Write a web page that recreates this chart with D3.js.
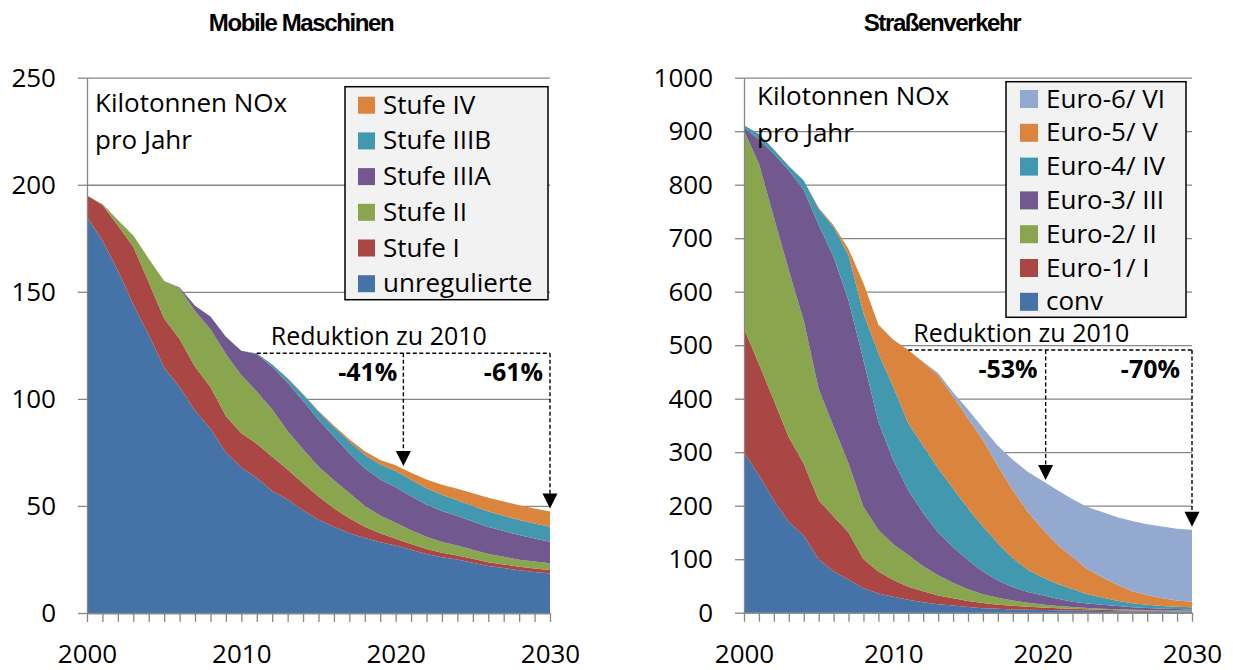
<!DOCTYPE html>
<html lang="de">
<head>
	<meta charset="UTF-8">
	<title>NOx-Emissionen: Mobile Maschinen / Straßenverkehr</title>
	<script src="https://cdnjs.cloudflare.com/ajax/libs/d3/7.8.5/d3.min.js"></script>
	<style>
		body { margin: 0; background: #fff; }
		svg { display: block; font-family: "Open Sans", sans-serif; }
		.axis text { font-size: 26px; fill: #000; font-family: "Open Sans", sans-serif; }
		.axis path, .axis line, .grid line { stroke: #868686; stroke-width: 1.3; }
		.grid path { display: none; }
		.title { font-family: "Liberation Sans", Arial, sans-serif; font-weight: bold; font-size: 24px; letter-spacing: -1.4px; }
		.unit { font-size: 26px; }
		.legend text { font-size: 26px; }
		.redu { font-size: 25px; }
		.pct { font-size: 25px; font-weight: bold; }
	</style>
</head>
<body>

<script>
	//----Kategorien----
	var years = [2000, 2001, 2002, 2003, 2004, 2005, 2006, 2007, 2008, 2009, 2010,
		2011, 2012, 2013, 2014, 2015, 2016, 2017, 2018, 2019, 2020,
		2021, 2022, 2023, 2024, 2025, 2026, 2027, 2028, 2029, 2030];
	var xLabels = [2000, 2010, 2020, 2030];
	var colors = ['#4572A7', '#AA4643', '#89A54E', '#71588F', '#4198AF', '#DB843D', '#93A9CF'];

	//----Mobile Maschinen (kt NOx)----
	var mmTicks = [0, 50, 100, 150, 200, 250];
	var mmNames = ['unregulierte', 'Stufe I', 'Stufe II', 'Stufe IIIA', 'Stufe IIIB', 'Stufe IV'];
	var mmUnreguliert = [185, 174, 160, 144, 130, 114.5, 105.5, 94.5, 86, 75, 68, 63, 57, 53, 48, 43.5, 40.3, 37.2, 35, 33, 31.5, 29.5, 27.5, 26, 25, 23.5, 22, 21, 20, 19.2, 18.5];
	var mmStufe1 = [10, 16.5, 21, 27, 24.5, 23, 22.5, 20.5, 19.5, 17, 16, 16, 16, 14, 12.6, 10.9, 8.6, 7, 5.3, 4.2, 3.2, 2.7, 2.4, 2.1, 1.9, 1.8, 1.7, 1.7, 1.6, 1.6, 1.6];
	var mmStufe2 = [0, 0.5, 2.5, 5.3, 11, 17.5, 23.5, 26, 27, 29, 27, 24.5, 22, 18, 15.9, 14, 13.1, 11.8, 9.7, 8.3, 7.5, 6.5, 5.7, 5.1, 4.6, 4.2, 3.9, 3.6, 3.3, 3.2, 3.1];
	var mmStufe3A = [0, 0, 0, 0, 0, 0, 0.5, 2.5, 6, 8, 11.5, 17.5, 20, 22.5, 22.5, 21.8, 20.4, 18.6, 17.6, 16.8, 16.5, 15.8, 15, 14.4, 13.8, 13.2, 12.6, 12, 11.5, 10.8, 10.1];
	var mmStufe3B = [0, 0, 0, 0, 0, 0, 0, 0, 0, 0, 0, 0.3, 1, 2, 3, 3.8, 4.5, 5.5, 6.3, 7, 7.6, 7.7, 7.7, 7.6, 7.4, 7.3, 7.2, 7.1, 7, 7, 7];
	var mmStufe4 = [0, 0, 0, 0, 0, 0, 0, 0, 0, 0, 0, 0, 0, 0.2, 0.3, 0.4, 0.7, 1.1, 1.6, 2.1, 2.7, 3.3, 4, 4.7, 5.3, 5.9, 6.4, 6.7, 6.9, 7, 7.1];
	var mmArrowYears = [2020.5, 2030];
	var mmReduction = ['-41%', '-61%'];

	//----Straßenverkehr (kt NOx)----
	var svTicks = [0, 100, 200, 300, 400, 500, 600, 700, 800, 900, 1000];
	var svNames = ['conv', 'Euro-1/ I', 'Euro-2/ II', 'Euro-3/ III', 'Euro-4/ IV', 'Euro-5/ V', 'Euro-6/ VI'];
	var svConv = [300, 257, 210, 170, 144, 100, 77, 62, 45.5, 36, 30, 24, 19.5, 16, 13.5, 10.5, 8.5, 7.3, 6.2, 5.5, 5, 4.5, 4, 3.6, 3.2, 2.9, 2.6, 2.4, 2.2, 2.1, 2];
	var svEuro1 = [231, 208, 187, 158, 135, 110, 103, 88, 54.5, 41, 31, 24.6, 20.5, 16, 13.5, 11.5, 9.5, 7.7, 6.8, 5.5, 4.8, 4, 3.3, 2.7, 2.3, 1.8, 1.4, 1.1, 0.8, 0.6, 0.5];
	var svEuro2 = [370, 374, 342, 312, 267, 208, 168, 129, 98, 77.5, 67, 59.4, 47, 38, 29, 22, 16.5, 13, 10, 7.5, 5.5, 4.2, 3.3, 2.6, 2, 1.7, 1.5, 1.4, 1.3, 1.2, 1.2];
	var svEuro3 = [5, 46, 119, 187, 244, 307, 317, 305, 274, 202.5, 157, 121, 99, 80, 67, 54, 42.5, 32, 25, 20, 17.2, 13.5, 10.1, 8.5, 7.3, 6, 4.8, 4.1, 3.3, 2.9, 2.5];
	var svEuro4 = [5, 10, 8, 8, 18, 30, 56, 84, 88, 128, 137, 125, 126, 120, 109, 97, 84, 70, 54, 42, 33.5, 27.5, 23.4, 17, 13.5, 10, 7.5, 5.8, 5, 4.2, 3.8];
	var svEuro5 = [0, 0, 0, 0, 0, 2, 3, 12, 56, 53, 88, 137, 156, 174, 172, 168, 162, 144, 127, 108, 90, 73, 60, 47, 38, 30, 22.5, 18.5, 14.5, 12, 10.6];
	var svEuro6 = [0, 0, 0, 0, 0, 0, 0, 0, 0, 0, 0, 0, 1, 4, 8, 17, 22, 38, 57, 75, 90, 102, 108, 116, 122, 126, 131, 132, 134, 134, 134.4];
	var svArrowYears = [2020.2, 2030];
	var svReduction = ['-53%', '-70%'];

	var unitLines = ['Kilotonnen NOx', 'pro Jahr'];
	var reductionText = 'Reduktion zu 2010';

	var svg = d3.select('body').append('svg')
		.attr('width', 1233)
		.attr('height', 670);

	function drawChart(c) {
		var g = svg.append('g')
			.attr('transform', 'translate(' + c.left + ',' + c.top + ')');

		var x = d3.scaleLinear()
			.domain([years[0], years[years.length - 1]])
			.range([0, c.width]);
		var y = d3.scaleLinear()
			.domain([0, c.yMax])
			.range([c.height, 0]);

		var rows = years.map(function (yr, i) {
			var r = {year: yr};
			c.names.forEach(function (n, k) { r[n] = c.series[k][i]; });
			return r;
		});
		var layers = d3.stack().keys(c.names)(rows);

		//----Gitter----
		g.append('g')
			.attr('class', 'grid')
			.call(d3.axisLeft(y).tickValues(c.yTicks).tickSize(-c.width).tickFormat(''));

		//----Flächen----
		var area = d3.area()
			.x(function (d) { return x(d.data.year); })
			.y0(function (d) { return y(d[0]); })
			.y1(function (d) { return y(d[1]); });

		g.selectAll('.layer')
			.data(layers)
			.enter().append('path')
			.attr('class', 'layer')
			.attr('fill', function (d, i) { return colors[i]; })
			.attr('d', area);

		//----Achsen----
		g.append('g')
			.attr('class', 'axis axis--y')
			.call(d3.axisLeft(y).tickValues(c.yTicks).tickSize(9).tickPadding(22).tickSizeOuter(0)
				.tickFormat(d3.format('d')));
		g.append('g')
			.attr('class', 'axis axis--x')
			.attr('transform', 'translate(0,' + c.height + ')')
			.call(d3.axisBottom(x).tickValues(years).tickSize(9).tickPadding(23).tickSizeOuter(0)
				.tickFormat(function (d) { return xLabels.indexOf(d) >= 0 ? d : ''; }));

		//----Reduktion zu 2010----
		var totals = years.map(function (yr, i) {
			return d3.sum(c.series, function (s) { return s[i]; });
		});
		function totalAt(yr) {
			var i = Math.min(Math.floor(yr - years[0]), years.length - 2);
			var t = yr - years[i];
			return totals[i] * (1 - t) + totals[i + 1] * t;
		}
		var lineY = y(totalAt(c.dashFrom));
		var ann = g.append('g');
		ann.append('line')
			.attr('x1', x(c.dashFrom)).attr('x2', x(c.arrowYears[c.arrowYears.length - 1]))
			.attr('y1', lineY).attr('y2', lineY)
			.attr('stroke', '#000').attr('stroke-width', 1.4).attr('stroke-dasharray', '4,2.5');
		ann.append('text')
			.attr('class', 'redu')
			.attr('x', x(c.dashFrom) + c.reduDx)
			.attr('y', lineY - 8)
			.text(reductionText);

		c.arrowYears.forEach(function (yr, i) {
			var ax = x(yr);
			var tip = y(totalAt(yr)) - 3;
			ann.append('line')
				.attr('x1', ax).attr('x2', ax)
				.attr('y1', lineY).attr('y2', tip - 14)
				.attr('stroke', '#000').attr('stroke-width', 1.4).attr('stroke-dasharray', '4,2.5');
			ann.append('path')
				.attr('d', 'M' + (ax - 7.5) + ',' + (tip - 15) + 'L' + (ax + 7.5) + ',' + (tip - 15) + 'L' + ax + ',' + tip + 'Z')
				.attr('fill', '#000');
			ann.append('text')
				.attr('class', 'pct')
				.attr('x', ax - c.pctGap[i])
				.attr('y', lineY + 19)
				.attr('dy', '0.35em')
				.attr('text-anchor', 'end')
				.text(c.pct[i]);
		});

		//----Einheit----
		unitLines.forEach(function (t, i) {
			svg.append('text')
				.attr('class', 'unit')
				.attr('x', c.unitX)
				.attr('y', c.unitY + i * 36.5)
				.text(t);
		});

		//----Legende----
		var lg = svg.append('g').attr('class', 'legend')
			.attr('transform', 'translate(' + c.legend.x + ',' + c.legend.y + ')');
		lg.append('rect')
			.attr('width', c.legend.w).attr('height', c.legend.h)
			.attr('fill', '#f2f2f2').attr('stroke', '#000').attr('stroke-width', 1.5);
		var items = c.names.map(function (n, i) { return {name: n, color: colors[i]}; }).reverse();
		items.forEach(function (d, i) {
			var row = lg.append('g')
				.attr('transform', 'translate(' + c.legend.pad + ',' + (c.legend.first + i * c.legend.step) + ')');
			row.append('rect')
				.attr('width', c.legend.sw).attr('height', c.legend.sw)
				.attr('fill', d.color);
			row.append('text')
				.attr('x', c.legend.sw + 8)
				.attr('y', c.legend.sw / 2 + 8.5)
				.text(d.name);
		});

		//----Titel----
		svg.append('text')
			.attr('class', 'title')
			.attr('x', c.titleX)
			.attr('y', 31)
			.attr('text-anchor', 'middle')
			.text(c.title);
	}

	drawChart({
		title: 'Mobile Maschinen', titleX: 301,
		left: 87, top: 77.7, width: 463, height: 535.3,
		yMax: 250, yTicks: mmTicks, names: mmNames,
		series: [mmUnreguliert, mmStufe1, mmStufe2, mmStufe3A, mmStufe3B, mmStufe4],
		dashFrom: 2011, arrowYears: mmArrowYears, pct: mmReduction, pctGap: [6, 7], reduDx: 14,
		unitX: 95, unitY: 112,
		legend: {x: 345, y: 86.7, w: 203, h: 213, pad: 13, first: 10, step: 35.7, sw: 17}
	});

	drawChart({
		title: 'Straßenverkehr', titleX: 942,
		left: 744, top: 77.7, width: 448, height: 535,
		yMax: 1000, yTicks: svTicks, names: svNames,
		series: [svConv, svEuro1, svEuro2, svEuro3, svEuro4, svEuro5, svEuro6],
		dashFrom: 2011, arrowYears: svArrowYears, pct: svReduction, pctGap: [8, 12], reduDx: 5,
		unitX: 757, unitY: 105,
		legend: {x: 1006, y: 81.7, w: 180, h: 235.6, pad: 14, first: 8.3, step: 33.8, sw: 18}
	});
</script>
</body>
</html>
